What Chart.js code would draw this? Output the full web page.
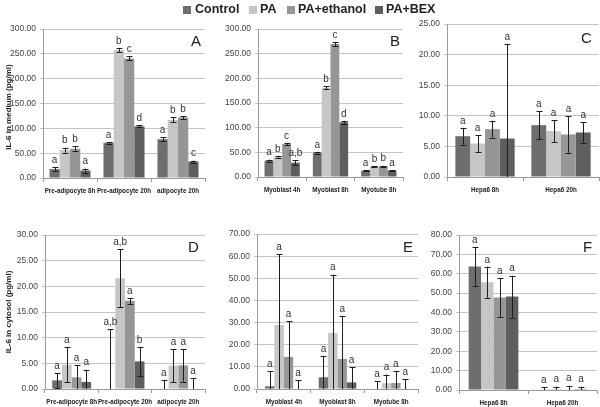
<!DOCTYPE html>
<html><head><meta charset="utf-8">
<script src="https://cdn.jsdelivr.net/npm/chart.js@4.4.1/dist/chart.umd.min.js"></script>
<style>
body{margin:0;background:#fff;width:600px;height:407px;overflow:hidden;position:relative;font-family:"Liberation Sans",Arial,sans-serif;color:#222}
canvas{position:absolute}
.lg{position:absolute;top:3px;font-size:12.5px;font-weight:bold;line-height:13px;color:#222;white-space:nowrap}
.sq{position:absolute;top:6px;width:8px;height:8px}
.yt{position:absolute;font-size:8px;font-weight:bold;white-space:nowrap;transform:translate(-50%,-50%) rotate(-90deg);color:#222}
.pl{position:absolute;font-size:15px;line-height:15px;color:#222;z-index:5}
</style></head><body>
<div id="root"></div>
<script>
// ---------- data ----------
const SERIES = ["Control", "PA", "PA+ethanol", "PA+BEX"];
const COLORS = ["#6e6e6e", "#c6c6c6", "#969696", "#5e5e5e"];

// Panel A (IL-6 in medium, adipocytes)
const catsA = ["Pre-adipocyte 8h", "Pre-adipocyte 20h", "adipocyte 20h"];
const A_control = [18, 71, 78];   const A_control_err = [3.5, 1.5, 4];  const A_control_let = ["a", "a", "a"];
const A_pa = [56, 258, 117];      const A_pa_err = [5, 4, 5];           const A_pa_let = ["b", "b", "b"];
const A_eth = [59, 241, 122];     const A_eth_err = [5, 4, 3];          const A_eth_let = ["b", "c", "b"];
const A_bex = [15, 104, 33];      const A_bex_err = [4, 2, 2];          const A_bex_let = ["a", "d", "c"];

// Panel B (IL-6 in medium, muscle cells)
const catsB = ["Myoblast 4h", "Myoblast 8h", "Myotube 8h"];
const B_control = [33, 49, 13];   const B_control_err = [2, 2, 1];      const B_control_let = ["a", "a", "a"];
const B_pa = [41, 181, 21];       const B_pa_err = [2, 3, 1];           const B_pa_let = ["b", "b", "b"];
const B_eth = [67, 270, 22];      const B_eth_err = [2, 4, 1];          const B_eth_let = ["c", "c", "b"];
const B_bex = [29, 111, 13];      const B_bex_err = [5, 3, 1];          const B_bex_let = ["a,b", "d", "a"];

// Panel C (IL-6 in medium, hepatocytes)
const catsC = ["Hepa6 8h", "Hepa6 20h"];
const C_control = [6.67, 8.48];   const C_control_err = [1.37, 2.3];    const C_control_let = ["a", "a"];
const C_pa = [5.47, 7.5];         const C_pa_err = [1.37, 1.8];         const C_pa_let = ["a", "a"];
const C_eth = [7.82, 6.95];       const C_eth_err = [1.37, 3.0];        const C_eth_let = ["a", "a"];
const C_bex = [6.29, 7.28];       const C_bex_err = [15.4, 1.65];       const C_bex_let = ["a", "a"];

// Panel D (IL-6 in cytosol, adipocytes)
const catsD = ["Pre-adipocyte 8h", "Pre-adipocyte 20h", "adipocyte 20h"];
const D_control = [1.68, 0, 0];   const D_control_err = [1.4, 11.7, 1.7];  const D_control_let = ["a", "a,b", "a"];
const D_pa = [4.73, 21.58, 4.54]; const D_pa_err = [3.45, 5.6, 3.2];       const D_pa_let = ["a", "a,b", "a"];
const D_eth = [2.27, 17.17, 4.6]; const D_eth_err = [2.33, 0.6, 3.18];     const D_eth_let = ["a", "a", "a"];
const D_bex = [1.36, 5.38, 0];    const D_bex_err = [2.4, 2.8, 2.1];       const D_bex_let = ["a", "b", "a"];

// Panel E (IL-6 in cytosol, muscle cells)
const catsE = ["Myoblast 4h", "Myoblast 8h", "Myotube 8h"];
const E_control = [1.2, 5.3, 0];  const E_control_err = [6.8, 9.6, 3.5];   const E_control_let = ["a", "a", "a"];
const E_pa = [29, 25.3, 2.6];     const E_pa_err = [32, 26.4, 3.9];        const E_pa_let = ["a", "a", "a"];
const E_eth = [14.5, 13.6, 2.7];  const E_eth_err = [16.1, 19.5, 5.3];     const E_eth_let = ["a", "a", "a"];
const E_bex = [0, 3, 0];          const E_bex_err = [3.9, 6.8, 4.5];       const E_bex_let = ["a", "a", "a"];

// Panel F (IL-6 in cytosol, hepatocytes)
const catsF = ["Hepa6 8h", "Hepa6 20h"];
const F_control = [63.7, 0.2];    const F_control_err = [10.2, 1.3];       const F_control_let = ["a", "a"];
const F_pa = [55.6, 0.5];         const F_pa_err = [8, 1.2];               const F_pa_let = ["a", "a"];
const F_eth = [47.8, 0.3];        const F_eth_err = [9.9, 1.9];            const F_eth_let = ["a", "a"];
const F_bex = [48.2, 0.1];        const F_bex_err = [10.8, 1.6];           const F_bex_let = ["a", "a"];

// ---------- rendering ----------
Chart.defaults.font.family = '"Liberation Sans", Arial, sans-serif';
const catFamily = '"Liberation Sans", Arial, sans-serif', catSize = 6.3;

const errPlugin = {
  id: 'errbars',
  afterDatasetsDraw(chart) {
    const ctx = chart.ctx, ys = chart.scales.y;
    chart.data.datasets.forEach((ds, i) => {
      const meta = chart.getDatasetMeta(i);
      meta.data.forEach((el, j) => {
        const v = ds.data[j], e = ds.errs[j];
        const hi = ys.getPixelForValue(v + e);
        const lo = ys.getPixelForValue(Math.max(0, v - e));
        const x = Math.round(el.x) + 0.5;
        ctx.save();
        ctx.strokeStyle = '#1e1e1e'; ctx.lineWidth = 1;
        ctx.beginPath();
        ctx.moveTo(x, hi); ctx.lineTo(x, lo);
        ctx.moveTo(x - 3, Math.round(hi) + 0.5); ctx.lineTo(x + 3, Math.round(hi) + 0.5);
        if (v - e > 0) { ctx.moveTo(x - 3, Math.round(lo) + 0.5); ctx.lineTo(x + 3, Math.round(lo) + 0.5); }
        ctx.stroke();
        ctx.fillStyle = '#333';
        ctx.font = '10px "Liberation Sans", Arial, sans-serif';
        ctx.textAlign = 'center'; ctx.textBaseline = 'bottom';
        ctx.fillText(ds.letters[j], el.x, hi - 2);
        ctx.restore();
      });
    });
  }
};

function panel(cats, vals, errs, lets, max, step, g) {
  const cv = document.createElement('canvas');
  cv.width = g.w; cv.height = g.h;
  cv.style.left = g.left + 'px'; cv.style.top = g.top + 'px';
  document.getElementById('root').appendChild(cv);
  new Chart(cv, {
    type: 'bar',
    data: {
      labels: cats,
      datasets: SERIES.map((s, i) => ({
        label: s, data: vals[i], errs: errs[i], letters: lets[i],
        backgroundColor: COLORS[i], borderWidth: 0,
        categoryPercentage: g.cp, barPercentage: 1
      }))
    },
    options: {
      responsive: false, animation: false, devicePixelRatio: 1,
      layout: { padding: { top: g.padT, right: g.padR, left: 0, bottom: 0 } },
      plugins: { legend: { display: false }, tooltip: { enabled: false } },
      scales: {
        x: {
          grid: { display: true, drawOnChartArea: false, drawTicks: true, tickLength: 4, color: '#9a9a9a', offset: true },
          border: { color: '#9a9a9a' },
          ticks: { font: { size: catSize, weight: 'bold', family: catFamily }, color: '#222', padding: 5, maxRotation: 0, autoSkip: false },
          afterFit: s => { s.height = g.xh; }
        },
        y: {
          min: 0, max: max,
          ticks: { stepSize: step, callback: v => Number(v).toFixed(2), font: { size: 8.5 }, color: '#444', padding: 4 },
          grid: { color: '#c4c4c4', drawTicks: true, tickLength: 3 },
          border: { color: '#9a9a9a' },
          afterFit: s => { s.width = g.yw; }
        }
      }
    },
    plugins: [errPlugin]
  });
}

panel(catsA, [A_control, A_pa, A_eth, A_bex], [A_control_err, A_pa_err, A_eth_err, A_bex_err],
  [A_control_let, A_pa_let, A_eth_let, A_bex_let], 300, 50,
  { left: 0, top: 20, w: 210, h: 180, yw: 43, padT: 9, xh: 22, padR: 5, cp: 0.76 });
panel(catsB, [B_control, B_pa, B_eth, B_bex], [B_control_err, B_pa_err, B_eth_err, B_bex_err],
  [B_control_let, B_pa_let, B_eth_let, B_bex_let], 300, 50,
  { left: 210, top: 20, w: 200, h: 180, yw: 48, padT: 8, xh: 23, padR: 7, cp: 0.73 });
panel(catsC, [C_control, C_pa, C_eth, C_bex], [C_control_err, C_pa_err, C_eth_err, C_bex_err],
  [C_control_let, C_pa_let, C_eth_let, C_bex_let], 25, 5,
  { left: 410, top: 15, w: 190, h: 185, yw: 37, padT: 9, xh: 23, padR: 1, cp: 0.78 });
panel(catsD, [D_control, D_pa, D_eth, D_bex], [D_control_err, D_pa_err, D_eth_err, D_bex_err],
  [D_control_let, D_pa_let, D_eth_let, D_bex_let], 30, 5,
  { left: 0, top: 225, w: 210, h: 182, yw: 45, padT: 10, xh: 18, padR: 5, cp: 0.73 });
panel(catsE, [E_control, E_pa, E_eth, E_bex], [E_control_err, E_pa_err, E_eth_err, E_bex_err],
  [E_control_let, E_pa_let, E_eth_let, E_bex_let], 70, 10,
  { left: 210, top: 225, w: 210, h: 182, yw: 47, padT: 9, xh: 18, padR: 2, cp: 0.70 });
panel(catsF, [F_control, F_pa, F_eth, F_bex], [F_control_err, F_pa_err, F_eth_err, F_bex_err],
  [F_control_let, F_pa_let, F_eth_let, F_bex_let], 80, 10,
  { left: 420, top: 225, w: 180, h: 182, yw: 39, padT: 10, xh: 17, padR: 3, cp: 0.72 });

// legend, axis titles, panel letters (HTML text)
const root = document.getElementById('root');
function add(cls, txt, css) {
  const d = document.createElement('div'); d.className = cls; d.textContent = txt;
  Object.assign(d.style, css); root.appendChild(d); return d;
}
const legSq = [183, 249, 287, 375], legTx = [195, 260, 298, 386];
SERIES.forEach((s, i) => {
  add('sq', '', { left: legSq[i] + 'px', background: COLORS[i] });
  add('lg', s, { left: legTx[i] + 'px' });
});
add('yt', 'IL-6 in medium (pg/ml)', { left: '8px', top: '107px' });
add('yt', 'IL-6 in cytosol (pg/ml)', { left: '8px', top: '312px' });
const PANELS = ["A", "B", "C", "D", "E", "F"];
const plPos = [[191, 33], [390, 33], [581, 30], [188, 239], [403, 239], [583, 239]];
PANELS.forEach((p, i) => add('pl', p, { left: plPos[i][0] + 'px', top: plPos[i][1] + 'px' }));
</script>
</body></html>
